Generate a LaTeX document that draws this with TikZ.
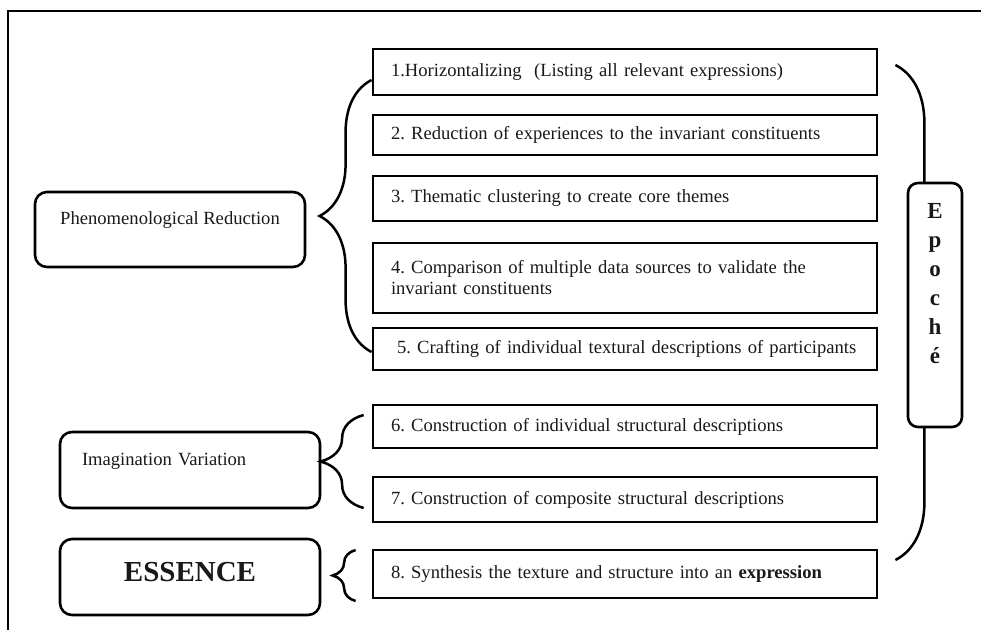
\documentclass[tikz,border=0pt]{standalone}
\usepackage{fontspec}
\setmainfont{Liberation Serif}
\usepackage{xcolor}
\usepackage{tikz}
\usetikzlibrary{decorations.pathreplacing}
\frenchspacing

\begin{document}
\begin{tikzpicture}[x=1pt, y=1pt, node distance=70pt,
  stepbox/.style={rectangle, minimum width=504pt, minimum height=44pt, text width=468pt, inner xsep=18pt, align=left, draw=black, line width=2.8pt, text=black!90, font=\fontsize{18.6}{21}\selectfont},
  phasebox/.style={rectangle, rounded corners=12pt, minimum height=76pt, draw=black, line width=2.6pt, text=black!90, font=\fontsize{18.6}{21}\selectfont},
  bracket/.style={decorate, draw=black, line width=2.5pt, decoration={brace, amplitude=#1}}]
\useasboundingbox (0,0) rectangle (981,630);
\draw[line width=1.8pt] (8,0) -- (8,619) -- (981,619);

\node (step1) [stepbox, minimum height=46pt] at (625,558) {1.Horizontalizing~\ (Listing all relevant expressions)};

\node (step2) [stepbox, minimum height=40pt, below of=step1, yshift=7pt] {2. Reduction of experiences to the invariant constituents};

\node (step3) [stepbox, minimum height=45pt, below of=step2, yshift=6.5pt] {3. Thematic clustering to create core themes};

\node (step4) [stepbox, minimum height=70pt, below of=step3, yshift=-9.5pt] {4. Comparison of multiple data sources to validate the\\ invariant constituents};

\node (step5) [stepbox, minimum height=42pt, below of=step4, yshift=-1pt] {\hspace*{6pt}5. Crafting of individual textural descriptions of participants};

\node (step6) [stepbox, minimum height=43pt, below of=step5, yshift=-7.5pt] {6. Construction of individual structural descriptions};

\node (step7) [stepbox, minimum height=45pt, below of=step6, yshift=-3pt] {7. Construction of composite structural descriptions};

\node (step8) [stepbox, minimum height=48pt, below of=step7, yshift=-4.5pt] {8. Synthesis the texture and structure into an \textbf{expression}};

\node (reduction) [phasebox, minimum width=270pt, minimum height=75pt, text depth=23pt, left of=step3, xshift=-385pt, yshift=-31pt] {Phenomenological Reduction};

\node (variation) [phasebox, minimum width=260pt, text width=216pt, inner xsep=22pt, align=left, text depth=21pt, left of=step7, xshift=-365pt, yshift=29.5pt] {Imagination Variation};

\node (essence) [phasebox, minimum width=260pt, text depth=10pt, font=\bfseries\fontsize{29}{32}\selectfont, left of=step8, xshift=-365pt, yshift=-3pt] {ESSENCE};

% braces
\draw[bracket=52pt] ([yshift=-3pt]step5.west) -- ([yshift=-8pt]step1.west);
\draw[bracket=43pt] ([xshift=-8pt, yshift=-8.5pt]step7.west) -- ([xshift=-8pt, yshift=11.5pt]step6.west);
\draw[bracket=23pt] ([xshift=-16pt, yshift=-27pt]step8.west) -- ([xshift=-16pt, yshift=24pt]step8.west);
\draw[bracket=58pt] ([xshift=17pt, yshift=7pt]step1.east) -- ([xshift=17pt, yshift=14pt]step8.east);

\node (epoche) [rectangle, rounded corners=10pt, minimum width=54pt, minimum height=244pt, text width=40pt, inner xsep=7pt, align=center, text depth=189pt, draw=black, line width=2.6pt, fill=white, text=black!90, font=\bfseries\fontsize{23}{29}\selectfont, right of=step4, xshift=240pt, yshift=-27pt] {E\\p\\o\\c\\h\\é};

\end{tikzpicture}
\end{document}
